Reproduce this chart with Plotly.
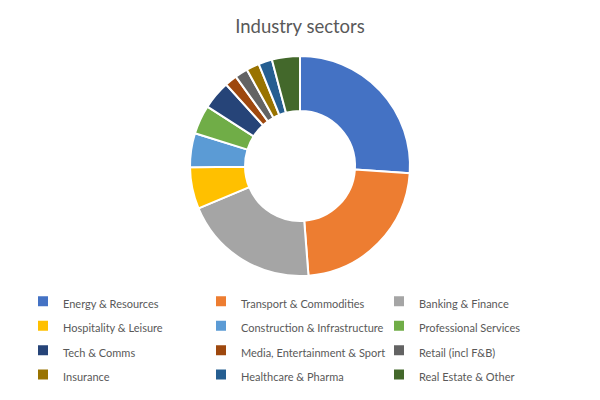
import plotly.graph_objects as go

sectors = ["Energy & Resources", "Transport & Commodities", "Banking & Finance",
           "Hospitality & Leisure", "Construction & Infrastructure", "Professional Services",
           "Tech & Comms", "Media, Entertainment & Sport", "Retail (incl F&B)",
           "Insurance", "Healthcare & Pharma", "Real Estate & Other"]
shares = [26.0, 22.7, 19.9, 6.1, 5.0, 4.25, 4.2, 1.8, 1.9, 1.9, 2.0, 4.1]
colors = ["#4472C4", "#ED7D31", "#A5A5A5", "#FFC000", "#5B9BD5", "#70AD47",
          "#264478", "#9E480E", "#636363", "#997300", "#255E91", "#43682B"]

# legend labels rendered small inside a taller legend row
legend_labels = [f"<span style='font-size:11px'>{s}</span>" for s in sectors]

fig = go.Figure(go.Pie(
    labels=legend_labels, values=shares, hole=0.5, sort=False, direction="clockwise",
    rotation=0, textinfo="none", hoverinfo="label+percent",
    marker=dict(colors=colors, line=dict(color="white", width=2)),
    domain=dict(x=[190/600, 410/600], y=[1-276/400, 1-56/400]),
))

fig.update_layout(
    width=600, height=400,
    margin=dict(l=0, r=0, t=0, b=0),
    paper_bgcolor="white", plot_bgcolor="white",
    font=dict(family="Lato, Carlito, sans-serif", color="#595959"),
    title=dict(text="Industry sectors", x=0.5, xanchor="center", y=1-27/400, yanchor="middle",
               font=dict(size=18.5, color="#595959")),
    legend=dict(orientation="h", x=23/600, xanchor="left", y=1-284/400, yanchor="top",
                entrywidth=133, entrywidthmode="pixels", font=dict(size=16.5, color="#595959"),
                itemwidth=30, traceorder="normal"),
    showlegend=True,
)

fig.write_html("out.html", config={"displayModeBar": False},
               post_script="document.body.style.margin='0';")
